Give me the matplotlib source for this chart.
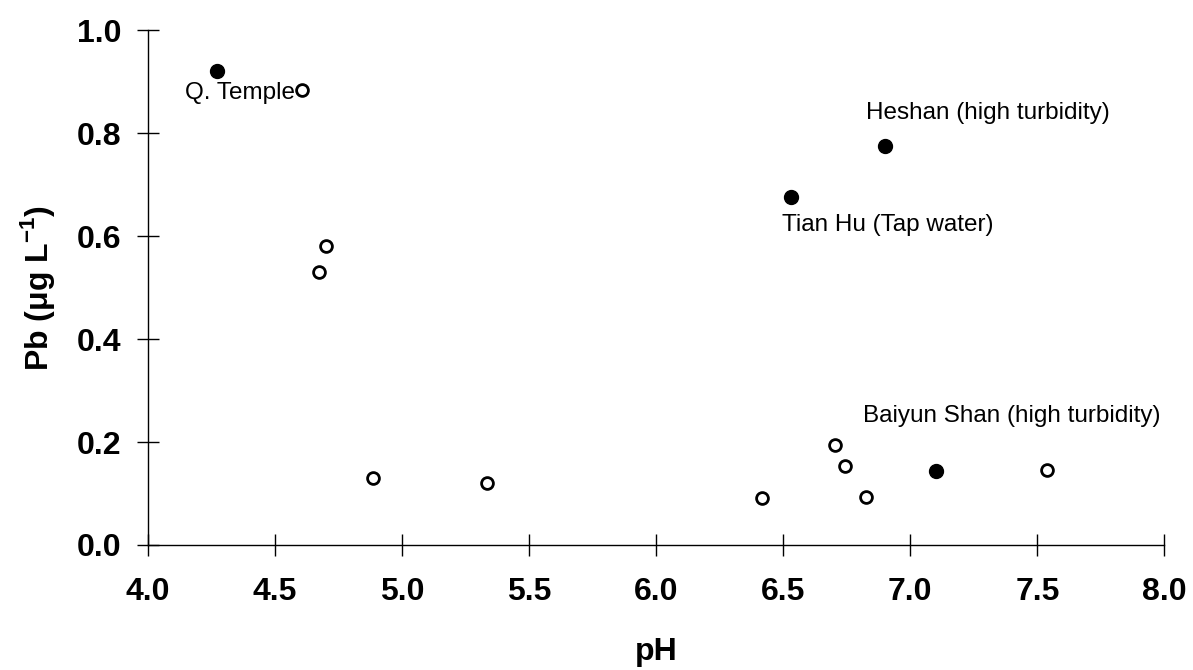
import matplotlib
matplotlib.use("Agg")
import matplotlib.pyplot as plt

plt.rcParams["font.family"] = ["Liberation Sans", "DejaVu Sans"]
plt.rcParams["mathtext.fontset"] = "custom"
plt.rcParams["mathtext.rm"] = "Liberation Sans"
plt.rcParams["mathtext.bf"] = "Liberation Sans:bold"

# filled points (labelled sites)
ph_filled = [4.27, 6.53, 6.90, 7.10]
pb_filled = [0.92, 0.676, 0.775, 0.144]

# open points
ph_open = [4.605, 4.70, 4.675, 4.885, 5.335, 6.415, 6.705, 6.745, 6.825, 7.54]
pb_open = [0.883, 0.58, 0.53, 0.131, 0.121, 0.092, 0.195, 0.153, 0.093, 0.145]

labels = ["Q. Temple", "Tian Hu (Tap water)", "Heshan (high turbidity)",
          "Baiyun Shan (high turbidity)"]
label_xy = [(4.58, 0.878), (6.91, 0.621), (6.825, 0.84), (7.40, 0.25)]

x_ticks = [4.0, 4.5, 5.0, 5.5, 6.0, 6.5, 7.0, 7.5, 8.0]
y_ticks = [0.0, 0.2, 0.4, 0.6, 0.8, 1.0]

fig = plt.figure(figsize=(11.93, 6.70), dpi=100)
ax = fig.add_axes([0.124, 0.1866, 0.852, 0.7684])

ax.plot(ph_open, pb_open, "o", ms=8.5, mfc="white", mec="black", mew=2.0,
        ls="none", zorder=3)
ax.plot(ph_filled, pb_filled, "o", ms=10, mfc="black", mec="black",
        ls="none", zorder=3)

ax.text(*label_xy[0], labels[0], fontsize=17.5, ha="right", va="center")
ax.text(*label_xy[1], labels[1], fontsize=17.5, ha="center", va="center")
ax.text(*label_xy[2], labels[2], fontsize=17.5, ha="left", va="center")
ax.text(*label_xy[3], labels[3], fontsize=17.5, ha="center", va="center")

ax.set_xlim(4.0, 8.0)
ax.set_ylim(0.0, 1.0)
ax.set_xticks(x_ticks)
ax.set_yticks(y_ticks)
ax.set_xticklabels([f"{v:.1f}" for v in x_ticks], fontweight="bold")
ax.set_yticklabels([f"{v:.1f}" for v in y_ticks], fontweight="bold")
ax.tick_params(axis="both", direction="inout", length=16, width=1,
               labelsize=23)
ax.tick_params(axis="x", pad=15)
ax.tick_params(axis="y", pad=11)

for s in ["top", "right"]:
    ax.spines[s].set_visible(False)
ax.spines["left"].set_linewidth(1)
ax.spines["bottom"].set_linewidth(1)

ax.set_xlabel("pH", fontsize=23, fontweight="bold", labelpad=22)
ax.set_ylabel(r"Pb (μg L$^{\mathbf{-1}}$)", fontsize=23,
              fontweight="bold", labelpad=14)

fig.savefig("out.png", dpi=100)
